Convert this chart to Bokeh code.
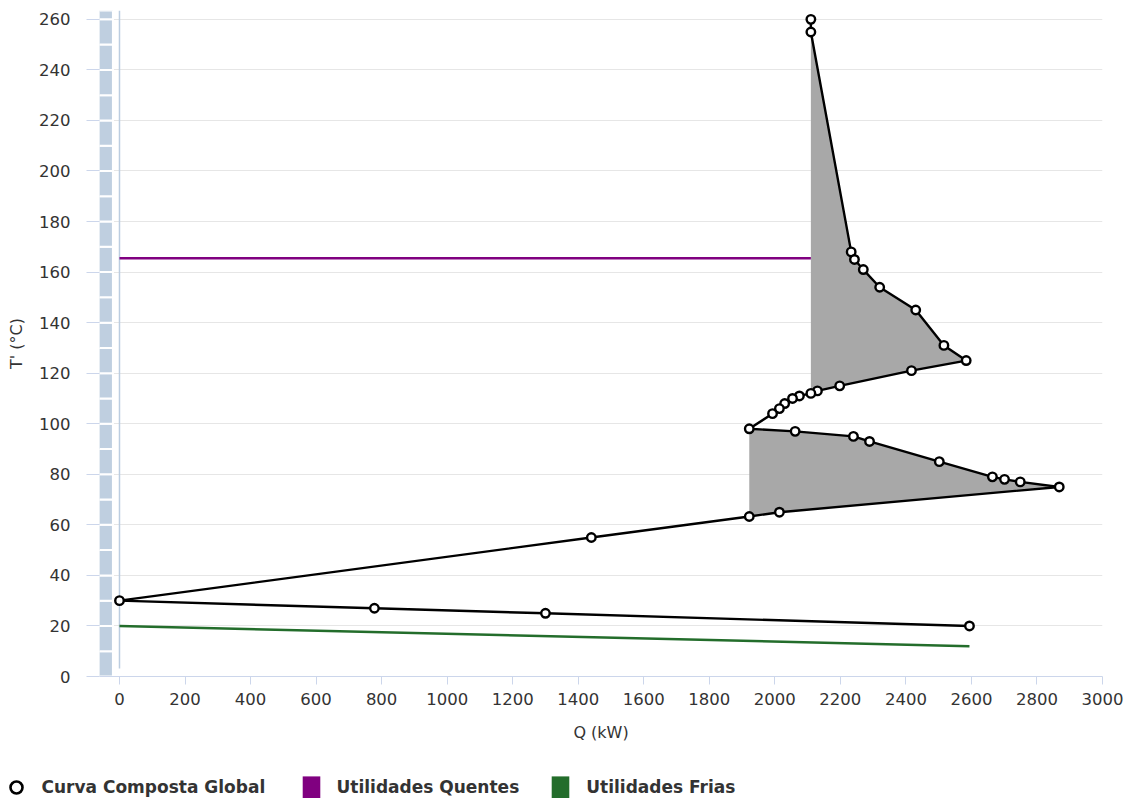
from bokeh.plotting import figure
from bokeh.models import Range1d, FixedTicker, Legend, LegendItem
from bokeh.embed import file_html
from bokeh.resources import INLINE

# ---- Data: Grand composite curve (Curva Composta Global) ----
gcc_q = [2110, 2110, 2233, 2243, 2270, 2320, 2430, 2516, 2584, 2417, 2198, 2130, 2110,
         2075, 2054, 2030, 2014, 1993, 1922, 2062, 2240, 2289, 2502, 2664, 2701, 2749,
         2868, 2014, 1922, 1440, 0, 778, 1300, 2594]
gcc_t = [260, 255, 168, 165, 161, 154, 145, 131, 125, 121, 115, 113, 112,
         111, 110, 108, 106, 104, 98, 97, 95, 93, 85, 79, 78, 77,
         75, 65, 63.3, 55, 30, 27, 25, 20]

# Hot utility (Utilidades Quentes)
hot_q = [0, 2110]
hot_t = [165.5, 165.5]

# Cold utility (Utilidades Frias)
cold_q = [0, 2594]
cold_t = [20, 12]

series_names = ["Curva Composta Global", "Utilidades Quentes", "Utilidades Frias"]

x_ticks = list(range(0, 3001, 200))
y_ticks = list(range(0, 261, 20))
bar_edges = list(range(0, 261, 10)) + [263.5]

FONT = "DejaVu Sans"
TXT = "#333333"
AXC = "#ccd6eb"
HOT = "#800080"
COLD = "#236d2b"

p = figure(width=1126, height=760, output_backend="svg", toolbar_location=None,
           x_range=Range1d(-61, 3000), y_range=Range1d(0, 263.5),
           min_border_left=99, min_border_right=24, min_border_top=10,
           min_border_bottom=84)
p.outline_line_color = None
p.xgrid.visible = False
p.ygrid.ticker = FixedTicker(ticks=y_ticks)
p.ygrid.grid_line_color = "#e6e6e6"
p.ygrid.grid_line_width = 1

p.xaxis.ticker = FixedTicker(ticks=x_ticks)
p.yaxis.ticker = FixedTicker(ticks=y_ticks)
p.xaxis.axis_label = "Q (kW)"
p.yaxis.axis_label = "T' (°C)"
for ax in (p.xaxis[0], p.yaxis[0]):
    ax.axis_label_text_font = FONT
    ax.axis_label_text_font_style = "normal"
    ax.axis_label_text_font_size = "16px"
    ax.axis_label_text_color = TXT
    ax.major_label_text_font = FONT
    ax.major_label_text_font_size = "16.5px"
    ax.major_label_text_color = TXT
    ax.minor_tick_line_color = None
    ax.major_tick_line_color = AXC
    ax.major_tick_in = 0
p.xaxis.axis_line_color = AXC
p.xaxis.major_tick_out = 8
p.xaxis.major_label_standoff = 8
p.xaxis.axis_label_standoff = 15
p.yaxis.axis_line_color = None
p.yaxis.major_tick_out = 13
p.yaxis.major_label_standoff = 16
p.yaxis.axis_label_standoff = 10

# left decorative band
p.quad(left=-64, right=-20, bottom=bar_edges[:-1], top=bar_edges[1:],
       fill_color="#bfcfe0", line_color="white", line_width=2)
# y axis line at x = 0
p.segment(x0=[0], y0=[3.2], x1=[0], y1=[263.5], line_color="#bccde0", line_width=1.5)

# pockets
p.patch(gcc_q[1:13], gcc_t[1:13], fill_color="#a8a8a8", line_color=None)
p.patch(gcc_q[18:29], gcc_t[18:29], fill_color="#a8a8a8", line_color=None)

p.line(hot_q, hot_t, line_color=HOT, line_width=2.5)
p.line(cold_q, cold_t, line_color=COLD, line_width=2.5)

p.line(gcc_q, gcc_t, line_color="black", line_width=2.4)
p.scatter(gcc_q, gcc_t, marker="circle", size=8.5, fill_color="white",
          line_color="black", line_width=2.4)

# ---- legend strip below the chart (separate root, no frame alignment) ----
lg = figure(width=1126, height=38, output_backend="svg", toolbar_location=None,
            x_range=Range1d(0, 1), y_range=Range1d(0, 1),
            x_axis_location=None, y_axis_location=None, min_border=0)
lg.outline_line_color = None
lg.grid.visible = False
offscreen = [-5]  # legend proxies sit outside the visible range
r_pts = lg.scatter(x=offscreen, y=offscreen, marker="circle", size=8.5, fill_color="white",
                   line_color="black", line_width=2.6)
r_hot = lg.quad(left=offscreen, right=offscreen, bottom=offscreen, top=offscreen,
                fill_color=HOT, line_color=None)
r_cold = lg.quad(left=offscreen, right=offscreen, bottom=offscreen, top=offscreen,
                 fill_color=COLD, line_color=None)


def style(leg):
    leg.label_text_font = FONT
    leg.label_text_font_style = "bold"
    leg.label_text_font_size = "17px"
    leg.label_text_color = TXT
    leg.padding = 0
    leg.margin = 0
    leg.border_line_color = None
    leg.background_fill_alpha = 0
    leg.label_height = 20
    leg.orientation = "horizontal"
    return leg


legA = style(Legend(items=[LegendItem(label=series_names[0], renderers=[r_pts])],
                    location=(0.5, -4), glyph_width=30, glyph_height=30,
                    label_standoff=11))
legB = style(Legend(items=[LegendItem(label=series_names[1], renderers=[r_hot]),
                           LegendItem(label=series_names[2], renderers=[r_cold])],
                    location=(299.5, -3.5), glyph_width=22, glyph_height=29,
                    label_standoff=15, spacing=30))
lg.add_layout(legA, "center")
lg.add_layout(legB, "center")

open("out.html", "w").write(file_html([p, lg], INLINE))
